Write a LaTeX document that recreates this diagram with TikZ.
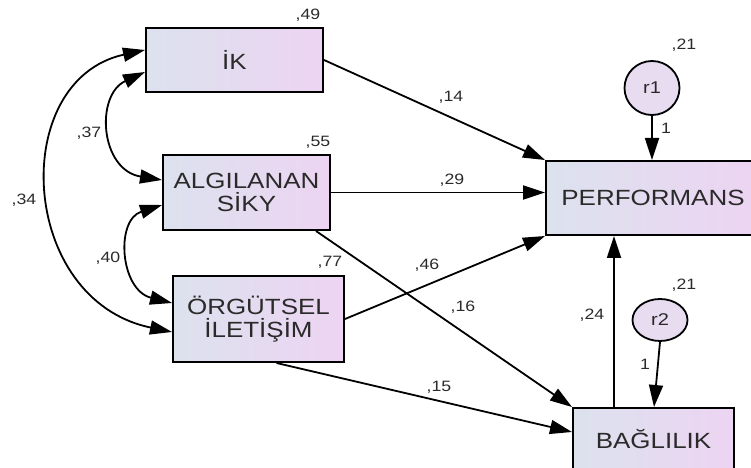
\documentclass[tikz,border=0pt]{standalone}
\usepackage{fontspec}
\setmainfont{Liberation Sans}[FakeStretch=1.18]
\usetikzlibrary{arrows.meta,calc,shapes.geometric}
\definecolor{boxL}{HTML}{DCE2EE}
\definecolor{boxR}{HTML}{EDD4F2}
\definecolor{circF}{HTML}{E8DCF0}
\definecolor{txt}{HTML}{2A2A2A}
\begin{document}
\begin{tikzpicture}[x=1bp,y=-1bp,
  var/.style={draw=black, line width=2bp, left color=boxL, right color=boxR,
    text=txt, font=\fontsize{22bp}{23bp}\selectfont, align=center, inner sep=0pt},
  err/.style={draw=black, line width=1.8bp, fill=circF, ellipse, inner sep=0pt,
    text=txt, font=\fontsize{17bp}{19bp}\selectfont},
  num/.style={text=txt, font=\fontsize{15bp}{17bp}\selectfont, inner sep=0pt},
  pathar/.style={line width=1.8bp, -{Triangle[length=22bp,width=14bp]}},
  cov/.style={line width=1.8bp, {Triangle[length=22bp,width=14bp]}-{Triangle[length=22bp,width=14bp]}}
]
\useasboundingbox (0,0) rectangle (751,468);
\clip (0,0) rectangle (751,468);

\node[var, minimum width=177bp, minimum height=64bp] (ik) at (234.5,60) {İK};
\node[var, minimum width=167bp, minimum height=75bp] (alg) at (246.5,192.5) {ALGILANAN\\SİKY};
\node[var, minimum width=171bp, minimum height=86bp] (org) at (258.5,319) {ÖRGÜTSEL\\İLETİŞİM};
\node[var, minimum width=214bp, minimum height=74bp] (perf) at (653,198) {PERFORMANS};
\node[var, minimum width=161bp, minimum height=62bp] (bag) at (653.5,439) {BAĞLILIK};
\node[err, minimum width=55bp, minimum height=54bp] (r1) at (652,88) {r1};
\node[err, minimum width=55bp, minimum height=42bp] (r2) at (660,320) {r2};

\coordinate (bp) at ($(bag.north west)+(42,0)$);
\coordinate (r2e) at ($(bag.north west)+(82,0)$);

\draw[pathar] (ik.east) -- (perf.north west);
\draw[pathar] (alg.east) -- (alg.east -| perf.west);
\draw[pathar] (org.east) -- (perf.south west);
\draw[pathar] ($(alg.south east)+(-15,0)$) -- (bag.north west);
\draw[pathar] ($(org.south)+(18,0)$) -- ($(bag.west)+(0,-7)$);
\draw[pathar] (bp) -- (bp |- perf.south);
\draw[pathar] (r1.south) -- (r1.south |- perf.north);
\draw[pathar] (r2.south) -- (r2e);

\draw[cov] ($(ik.west)+(0,12)$) .. controls (95,95) and (100,170) .. ($(alg.west)+(0,-12.5)$);
\draw[cov] ($(alg.west)+(0,12.5)$) .. controls (115,220) and (120,290) .. ($(org.west)+(0,-16)$);
\draw[cov] ($(ik.west)+(0,-10)$) .. controls (8,80) and (18,300) .. ($(org.west)+(0,13)$);

\node[num] (l49) at (308,15) {,49};
\node[num] (l55) at (318,142) {,55};
\node[num] (l37) at (89,133) {,37};
\node[num] (l34) at (24,200) {,34};
\node[num] (l40) at (108,258) {,40};
\node[num] (l77) at (330,262) {,77};
\node[num] (l14) at (451,97) {,14};
\node[num] (l29) at (452,180) {,29};
\node[num] (l21a) at (684,45) {,21};
\node[num] (l1a) at (666,128) {1};
\node[num] (l46) at (427,265) {,46};
\node[num] (l16) at (463,307) {,16};
\node[num] (l24) at (592,315) {,24};
\node[num] (l21b) at (684,285) {,21};
\node[num] (l1b) at (645,364) {1};
\node[num] (l15) at (439,387) {,15};
\end{tikzpicture}
\end{document}
